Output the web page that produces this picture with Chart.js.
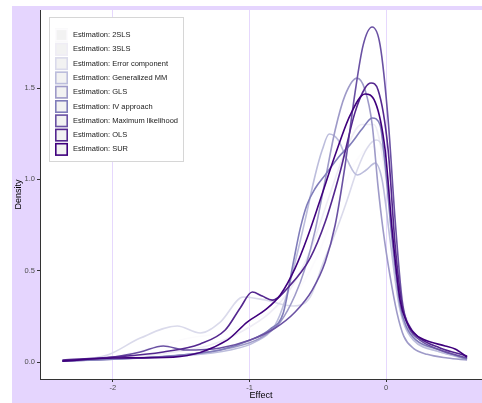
<!DOCTYPE html>
<html>
<head>
<meta charset="utf-8">
<script src="https://cdn.jsdelivr.net/npm/chart.js@4"></script>
<style>
  html, body { margin: 0; padding: 0; background: #fff; overflow: hidden; }
  #grafico { display: block; }
</style>
</head>
<body>
<canvas id="grafico" width="482" height="403"></canvas>
<script>
// estimadores y colores (escala Purples, de claro a oscuro)
const estimaciones = [
    "Estimation: 2SLS", "Estimation: 3SLS", "Estimation: Error component",
    "Estimation: Generalized MM", "Estimation: GLS", "Estimation: IV approach",
    "Estimation: Maximum likelihood", "Estimation: OLS", "Estimation: SUR"
];
const colores = ["#fcfbfd", "#efedf5", "#dadaeb", "#bcbddc", "#9e9ac8", "#807dba", "#6a51a3", "#54278f", "#3f007d"];

const ticksEfecto = [-2, -1, 0];
const ticksDensidad = [0, 0.5, 1, 1.5];

// curvas de densidad: [efecto, densidad]
const dens2SLS = [[-2.37,0.01],[-2.0,0.03],[-1.7,0.08],[-1.45,0.13],[-1.2,0.16],[-1.0,0.22],[-0.8,0.30],[-0.62,0.42],[-0.48,0.62],[-0.35,0.88],[-0.22,1.10],[-0.1,1.18],[-0.02,1.05],[0.06,0.68],[0.13,0.32],[0.18,0.20],[0.25,0.12],[0.4,0.06],[0.593,0.02]];
const dens3SLS = [[-2.37,0.005],[-2.0,0.02],[-1.6,0.05],[-1.3,0.09],[-1.05,0.17],[-0.85,0.27],[-0.7,0.40],[-0.55,0.62],[-0.42,0.90],[-0.3,1.15],[-0.18,1.30],[-0.09,1.30],[-0.02,1.10],[0.05,0.70],[0.12,0.32],[0.17,0.20],[0.24,0.13],[0.4,0.06],[0.593,0.02]];
const densError = [[-2.37,0.005],[-2.041,0.038],[-1.8,0.131],[-1.529,0.197],[-1.361,0.159],[-1.214,0.219],[-1.046,0.356],[-0.885,0.339],[-0.68,0.307],[-0.556,0.356],[-0.461,0.542],[-0.358,0.734],[-0.285,0.887],[-0.212,1.051],[-0.139,1.171],[-0.073,1.215],[-0.022,1.16],[0.022,0.941],[0.073,0.531],[0.132,0.241],[0.175,0.16],[0.25,0.10],[0.395,0.055],[0.593,0.022]];
const densGMM = [[-2.37,0.005],[-1.997,0.016],[-1.507,0.033],[-1.141,0.066],[-0.958,0.11],[-0.812,0.203],[-0.739,0.339],[-0.666,0.547],[-0.593,0.777],[-0.519,1.024],[-0.468,1.16],[-0.417,1.248],[-0.351,1.215],[-0.285,1.106],[-0.212,1.024],[-0.146,1.051],[-0.08,1.089],[-0.029,0.996],[0.029,0.668],[0.088,0.339],[0.13,0.21],[0.2,0.12],[0.395,0.055],[0.593,0.016]];
const densGLS = [[-2.37,0.005],[-1.997,0.016],[-1.507,0.038],[-1.141,0.077],[-0.922,0.131],[-0.775,0.219],[-0.666,0.367],[-0.593,0.514],[-0.519,0.722],[-0.446,0.996],[-0.373,1.27],[-0.3,1.461],[-0.212,1.554],[-0.154,1.489],[-0.102,1.3],[-0.059,0.96],[-0.022,0.722],[0.029,0.47],[0.08,0.268],[0.13,0.14],[0.2,0.075],[0.3,0.042],[0.45,0.022],[0.593,0.011]];
const densIV = [[-2.37,0.005],[-1.997,0.016],[-1.58,0.033],[-1.214,0.066],[-0.995,0.12],[-0.849,0.18],[-0.753,0.268],[-0.68,0.542],[-0.629,0.73],[-0.58,0.86],[-0.52,0.95],[-0.44,1.03],[-0.35,1.12],[-0.263,1.19],[-0.176,1.275],[-0.102,1.336],[-0.044,1.297],[-0.007,1.078],[0.044,0.668],[0.102,0.312],[0.15,0.19],[0.22,0.12],[0.395,0.066],[0.593,0.016]];
const densML = [[-2.37,0.005],[-1.997,0.027],[-1.8,0.055],[-1.631,0.088],[-1.47,0.066],[-1.214,0.077],[-0.995,0.12],[-0.812,0.186],[-0.666,0.274],[-0.541,0.394],[-0.446,0.547],[-0.373,0.75],[-0.3,1.078],[-0.227,1.478],[-0.168,1.735],[-0.102,1.834],[-0.044,1.735],[0.015,1.325],[0.066,0.777],[0.117,0.339],[0.16,0.20],[0.23,0.13],[0.395,0.066],[0.593,0.022]];
const densOLS = [[-2.37,0.011],[-1.997,0.027],[-1.631,0.055],[-1.361,0.099],[-1.178,0.175],[-1.068,0.296],[-0.98,0.383],[-0.907,0.361],[-0.834,0.339],[-0.702,0.421],[-0.556,0.569],[-0.446,0.766],[-0.337,1.04],[-0.227,1.368],[-0.154,1.5],[-0.11,1.527],[-0.059,1.489],[0.015,1.16],[0.066,0.64],[0.117,0.312],[0.16,0.21],[0.23,0.14],[0.395,0.077],[0.593,0.033]];
const densSUR = [[-2.37,0.005],[-1.997,0.022],[-1.558,0.027],[-1.163,0.12],[-1.017,0.219],[-0.885,0.285],[-0.775,0.367],[-0.666,0.514],[-0.578,0.679],[-0.483,0.887],[-0.373,1.133],[-0.263,1.352],[-0.154,1.467],[-0.08,1.423],[-0.007,1.16],[0.044,0.722],[0.102,0.339],[0.15,0.22],[0.2,0.16],[0.285,0.12],[0.432,0.088],[0.505,0.071],[0.593,0.027]];

const series = [dens2SLS, dens3SLS, densError, densGMM, densGLS, densIV, densML, densOLS, densSUR];

const fuente = '"Liberation Sans", Arial, sans-serif';
const lila = '#e5d5fe';

/*
* Fondo lila y panel blanco
*/
const fondo = {
    id: 'fondo',
    beforeDraw(chart) {
        const {ctx, chartArea: a} = chart;
        ctx.save();
        ctx.fillStyle = lila;
        ctx.fillRect(12, 6, chart.width - 12, chart.height - 6);
        ctx.fillStyle = '#fff';
        ctx.fillRect(a.left, a.top, a.right - a.left, a.bottom - a.top);
        ctx.restore();
    }
};

/*
* Leyenda dentro del panel
*/
const leyenda = {
    id: 'leyenda',
    afterDatasetsDraw(chart) {
        const {ctx, chartArea: a} = chart;
        const x0 = a.left + 9, y0 = a.top + 7, w = 134, h = 144;
        ctx.save();
        ctx.fillStyle = '#fff';
        ctx.fillRect(x0, y0, w, h);
        ctx.strokeStyle = '#d6d6d6';
        ctx.lineWidth = 1;
        ctx.strokeRect(x0 + 0.5, y0 + 0.5, w, h);
        ctx.font = '7.5px ' + fuente;
        ctx.textBaseline = 'middle';
        chart.data.datasets.forEach((ds, i) => {
            const cy = y0 + 18 + i * 14.3;
            ctx.fillStyle = '#f2f2f2';
            ctx.fillRect(x0 + 6, cy - 6.5, 13, 13);
            ctx.strokeStyle = ds.borderColor;
            ctx.lineWidth = 1.6;
            ctx.strokeRect(x0 + 6.8, cy - 5.7, 11.4, 11.4);
            ctx.fillStyle = '#1a1a1a';
            ctx.fillText(ds.label, x0 + 24, cy);
        });
        ctx.restore();
    }
};

new Chart(document.getElementById('grafico'), {
    type: 'line',
    data: {
        datasets: estimaciones.map((nombre, i) => ({
            label: nombre,
            data: series[i].map(([x, y]) => ({x: x, y: y})),
            borderColor: colores[i],
            borderWidth: 1.6,
            pointRadius: 0,
            fill: false,
            cubicInterpolationMode: 'monotone',
            order: estimaciones.length - i
        }))
    },
    options: {
        responsive: false,
        animation: false,
        layout: { padding: { top: 10, left: 0, right: 0, bottom: 0 } },
        plugins: { legend: { display: false }, tooltip: { enabled: false } },
        scales: {
            x: {
                type: 'linear',
                min: -2.534,
                max: 0.702,
                afterBuildTicks: s => { s.ticks = ticksEfecto.map(v => ({value: v})); },
                afterFit: s => { s.height = 24; },
                ticks: { color: '#4d4d4d', font: { size: 7.5, family: fuente }, padding: 1, maxRotation: 0, callback: v => String(v) },
                grid: { color: '#e6d8fd', lineWidth: 1, tickColor: '#333', tickLength: 3 },
                border: { color: '#333', width: 1 },
                title: { display: true, text: 'Effect', color: '#000', font: { size: 9, family: fuente }, padding: { top: 0, bottom: 1.6 } }
            },
            y: {
                type: 'linear',
                min: -0.093,
                max: 1.927,
                afterBuildTicks: s => { s.ticks = ticksDensidad.map(v => ({value: v})); },
                afterFit: s => { s.width = 40; },
                ticks: { color: '#4d4d4d', font: { size: 7.5, family: fuente }, padding: 2, callback: v => v.toFixed(1) },
                grid: { drawOnChartArea: false, tickColor: '#333', tickLength: 3 },
                border: { color: '#333', width: 1 },
                title: { display: true, text: 'Density', color: '#000', font: { size: 9, family: fuente }, padding: { top: 13.5, bottom: 0 } }
            }
        }
    },
    plugins: [fondo, leyenda]
});
</script>
</body>
</html>
